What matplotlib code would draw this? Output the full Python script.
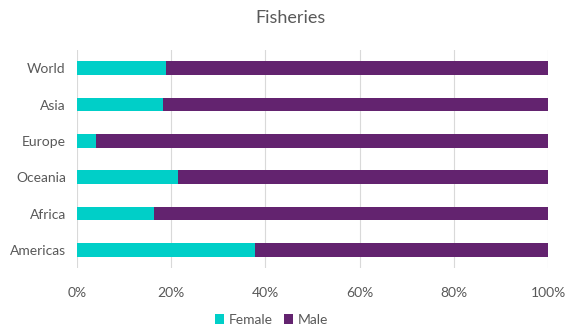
import matplotlib.pyplot as plt
from matplotlib.ticker import PercentFormatter

plt.rcParams['font.family'] = ['Lato', 'DejaVu Sans']

regions = ['World', 'Asia', 'Europe', 'Oceania', 'Africa', 'Americas']
female = [18.9, 18.3, 4.0, 21.4, 16.3, 37.8]
male = [100 - f for f in female]

teal = '#00CFC8'
purple = '#63236F'
text_grey = '#595959'

fig = plt.figure(figsize=(5.65, 3.29), dpi=100)
ax = fig.add_axes([0.1363, 0.1854, 0.8337, 0.6626])

y = list(range(len(regions)))[::-1]
ax.barh(y, female, height=0.37, color=teal, label='Female', zorder=3)
ax.barh(y, male, left=female, height=0.37, color=purple, label='Male', zorder=3)

ax.set_xlim(0, 100)
ax.set_ylim(-0.5, len(regions) - 0.5)
ax.set_xticks(range(0, 101, 20))
ax.xaxis.set_major_formatter(PercentFormatter(decimals=0))
ax.set_yticks(y)
ax.set_yticklabels(regions)
ax.grid(axis='x', color='#D9D9D9', linewidth=0.8, zorder=0)
for s in ax.spines.values():
    s.set_visible(False)
ax.tick_params(length=0, colors=text_grey, labelsize=10)
ax.tick_params(axis='x', pad=14)
ax.tick_params(axis='y', pad=8)

fig.suptitle('Fisheries', color=text_grey, fontsize=13, x=0.515, y=0.945, va='center')

fig.legend(*ax.get_legend_handles_labels(), loc='center', bbox_to_anchor=(0.48, 0.027),
           ncol=2, frameon=False, fontsize=10, labelcolor=text_grey,
           handlelength=0.7, handleheight=0.7, handletextpad=0.3, columnspacing=0.8)

fig.savefig('out.png', dpi=100)
